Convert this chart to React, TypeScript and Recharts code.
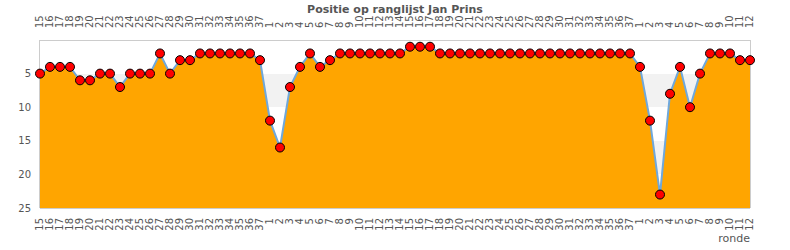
import { AreaChart, Area, XAxis, YAxis, CartesianGrid } from 'recharts'

// ronde-labels, drie seizoenen achter elkaar
const ROUND_LABELS = [
  '15', '16', '17', '18', '19', '20', '21', '22', '23', '24', '25', '26', '27', '28', '29', '30', '31', '32', '33', '34', '35', '36', '37',
  '1', '2', '3', '4', '5', '6', '7', '8', '9', '10', '11', '12', '13', '14', '15', '16', '17', '18', '19', '20', '21', '22', '23', '24', '25', '26', '27', '28', '29', '30', '31', '32', '33', '34', '35', '36', '37',
  '1', '2', '3', '4', '5', '6', '7', '8', '9', '10', '11', '12',
]

const SEASON_1 = [5, 4, 4, 4, 6, 6, 5, 5, 7, 5, 5, 5, 2, 5, 3, 3, 2, 2, 2, 2, 2, 2, 3]
const SEASON_2 = [
  12, 16, 7, 4, 2, 4, 3, 2, 2, 2, 2, 2, 2, 2, 1, 1, 1,
  2, 2, 2, 2, 2, 2, 2, 2, 2, 2, 2, 2, 2, 2, 2, 2, 2, 2, 2, 2,
]
const SEASON_3 = [4, 12, 23, 8, 4, 10, 5, 2, 2, 2, 3, 3]

const Y_TICKS = [5, 10, 15, 20, 25]

const positions = [...SEASON_1, ...SEASON_2, ...SEASON_3]
const chartData = positions.map((pos, i) => ({ i, pos }))
const xTicks = ROUND_LABELS.map((_, i) => i)

const FONT = '"DejaVu Sans", sans-serif'
const TEXT = '#555'

const TopTick = ({ x, y, payload }: any) => (
  <text
    transform={`translate(${x + 2.5},${y}) rotate(-90)`}
    textAnchor="start"
    fontSize={10}
    fontFamily={FONT}
    fill={TEXT}
  >
    {ROUND_LABELS[payload.value]}
  </text>
)

const BottomTick = ({ x, y, payload }: any) => (
  <text
    transform={`translate(${x + 2.5},${y}) rotate(-90)`}
    textAnchor="end"
    fontSize={10}
    fontFamily={FONT}
    fill={TEXT}
  >
    {ROUND_LABELS[payload.value]}
  </text>
)

// rand om het plotvlak, op halve pixels zodat de lijn scherp is
const edgesX = ({ offset, width }: any) => [offset.left - 0.5, width - offset.right + 0.5]
const edgesY = ({ offset, height }: any) => [offset.top + 0.5, height - offset.bottom + 0.5]

export default function App() {
  return (
    <div style={{ position: 'absolute', left: 0, top: 0, width: 790, height: 250, background: '#fff', fontFamily: FONT }}>
      <div
        style={{
          position: 'absolute',
          left: 0,
          top: 3,
          width: 790,
          textAlign: 'center',
          fontSize: 11,
          lineHeight: '13px',
          fontWeight: 'bold',
          color: TEXT,
        }}
      >
        Positie op ranglijst Jan Prins
      </div>
      <AreaChart width={790} height={250} data={chartData} margin={{ top: 0, right: 0, bottom: 0, left: 0 }}>
        <XAxis
          xAxisId="t"
          orientation="top"
          type="number"
          dataKey="i"
          domain={[0, 71]}
          ticks={xTicks}
          interval={0}
          height={40}
          tickLine={false}
          axisLine={false}
          tickSize={6}
          tickMargin={6}
          tick={<TopTick />}
        />
        <XAxis
          xAxisId="b"
          orientation="bottom"
          type="number"
          dataKey="i"
          domain={[0, 71]}
          ticks={xTicks}
          interval={0}
          height={42}
          tickLine={false}
          axisLine={false}
          tickSize={6}
          tickMargin={4}
          tick={<BottomTick />}
        />
        <YAxis
          yAxisId="l"
          orientation="left"
          reversed
          domain={[0, 25]}
          ticks={Y_TICKS}
          width={40}
          tickLine={false}
          axisLine={false}
          tickSize={6}
          tickMargin={3}
          tick={{ fontSize: 10, fill: TEXT, fontFamily: FONT }}
        />
        <YAxis
          yAxisId="r"
          orientation="right"
          reversed
          domain={[0, 25]}
          ticks={Y_TICKS}
          width={40}
          tickLine={false}
          axisLine={false}
          tickSize={6}
          tickMargin={2}
          tick={{ fontSize: 10, fill: TEXT, fontFamily: FONT, textAnchor: 'start' }}
        />
        <CartesianGrid
          xAxisId="b"
          yAxisId="l"
          horizontal
          vertical={false}
          stroke="none"
          horizontalFill={['#ffffff', '#f2f2f2']}
        />
        <CartesianGrid
          xAxisId="b"
          yAxisId="l"
          horizontal
          vertical
          stroke="#cccccc"
          strokeWidth={1}
          horizontalCoordinatesGenerator={edgesY}
          verticalCoordinatesGenerator={edgesX}
        />
        <Area
          xAxisId="b"
          yAxisId="l"
          type="linear"
          dataKey="pos"
          baseValue={25}
          stroke="#6fa8dc"
          strokeWidth={2}
          fill="#ffa500"
          fillOpacity={1}
          dot={{ r: 4.5, fill: '#ff0000', stroke: '#000', strokeWidth: 1, fillOpacity: 1 }}
          activeDot={false}
          isAnimationActive={false}
        />
      </AreaChart>
      <div
        style={{
          position: 'absolute',
          left: 0,
          top: 232,
          width: 750,
          textAlign: 'right',
          fontSize: 11,
          lineHeight: '13px',
          color: TEXT,
        }}
      >
        ronde
      </div>
    </div>
  )
}
